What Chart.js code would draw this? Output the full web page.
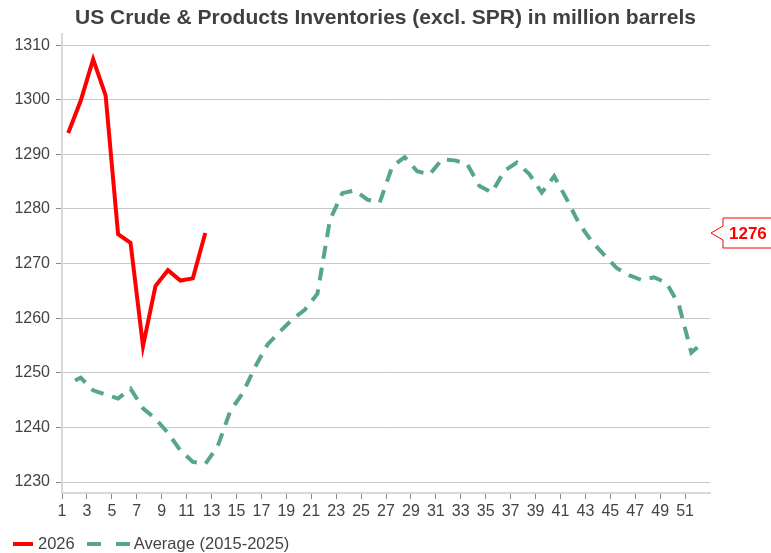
<!DOCTYPE html>
<html>
<head>
<meta charset="utf-8">
<script src="https://cdn.jsdelivr.net/npm/chart.js@4.4.1/dist/chart.umd.min.js"></script>
<style>
    body { margin: 0; background: #fff; }
    #wrap { position: relative; width: 771px; height: 553px; font-family: "Liberation Sans", Arial, sans-serif; }
    #legend { position: absolute; left: 13px; top: 534px; font-size: 16.5px; color: #444; display: flex; align-items: center; }
    .sw { display: inline-block; height: 4px; }
</style>
</head>
<body>
<div id="wrap">
    <canvas id="chart"></canvas>
    <div id="legend">
        <span class="sw" style="width:20px;background:#ff0000"></span>
        <span style="margin-left:5px">2026</span>
        <span class="sw" style="width:14px;background:#55a58f;margin-left:12px"></span>
        <span class="sw" style="width:14px;background:#55a58f;margin-left:15px"></span>
        <span style="margin-left:4px">Average (2015-2025)</span>
    </div>
</div>
<script>
const weeks = Array.from({ length: 52 }, (_, i) => i + 1);
const xTicks = [1, 3, 5, 7, 9, 11, 13, 15, 17, 19, 21, 23, 25, 27, 29, 31, 33, 35, 37, 39, 41, 43, 45, 47, 49, 51];
const yTicks = [1230, 1240, 1250, 1260, 1270, 1280, 1290, 1300, 1310];

const current2026 = [1293.9, 1299.8, 1307.4, 1300.8, 1275.4, 1273.8, 1254.9, 1265.9, 1268.8, 1266.9, 1267.3, 1275.6];

const average = [
    1248.0, 1249.1, 1246.8, 1246.0, 1245.3, 1247.1, 1243.5, 1241.6, 1239.0, 1235.8,
    1233.7, 1233.3, 1236.6, 1243.0, 1246.3, 1251.1, 1255.2, 1257.6, 1259.8, 1261.6,
    1264.5, 1278.0, 1282.9, 1283.4, 1281.7, 1281.2, 1287.8, 1289.5, 1286.9, 1286.3,
    1289.1, 1288.9, 1288.3, 1284.2, 1283.0, 1287.0, 1288.5, 1286.4, 1283.0, 1286.0,
    1281.8, 1277.3, 1274.1, 1271.6, 1269.2, 1267.9, 1267.0, 1267.5, 1266.5, 1262.5,
    1253.7, 1255.7
];

const red = '#ff0000';
const green = '#55a58f';
const textColor = '#444444';

// week labels sit on the tick marks, the points sit in the middle of each week
const toPoints = vals => vals.map((v, i) => ({ x: weeks[i] + 0.5, y: v }));

const calloutPlugin = {
    id: 'callout',
    afterDraw(chart) {
        const ctx = chart.ctx;
        const area = chart.chartArea;
        const last = current2026[current2026.length - 1];
        const y = chart.scales.y.getPixelForValue(last);
        const tip = area.right + 1;
        const left = area.right + 13;
        ctx.save();
        ctx.beginPath();
        ctx.moveTo(tip, y);
        ctx.lineTo(left, y - 7);
        ctx.lineTo(left, y - 15);
        ctx.lineTo(chart.width + 5, y - 15);
        ctx.lineTo(chart.width + 5, y + 15);
        ctx.lineTo(left, y + 15);
        ctx.lineTo(left, y + 7);
        ctx.closePath();
        ctx.fillStyle = '#fff';
        ctx.fill();
        ctx.strokeStyle = red;
        ctx.lineWidth = 1;
        ctx.stroke();
        ctx.fillStyle = red;
        ctx.font = 'bold 17px "Liberation Sans", Arial, sans-serif';
        ctx.textBaseline = 'middle';
        ctx.fillText(Math.round(last).toString(), left + 6, y + 1);
        ctx.restore();
    }
};

new Chart(document.getElementById('chart'), {
    type: 'line',
    data: {
        datasets: [
            {
                label: '2026',
                data: toPoints(current2026),
                borderColor: red,
                borderWidth: 4,
                pointRadius: 0,
                tension: 0
            },
            {
                label: 'Average (2015-2025)',
                data: toPoints(average),
                borderColor: green,
                borderWidth: 4,
                borderDash: [13, 9],
                borderDashOffset: 14.5,
                pointRadius: 0,
                tension: 0
            }
        ]
    },
    options: {
        responsive: true,
        maintainAspectRatio: false,
        animation: false,
        layout: { padding: 0 },
        font: { family: '"Liberation Sans", Arial, sans-serif' },
        scales: {
            x: {
                type: 'linear',
                min: 1,
                max: 53,
                afterBuildTicks: scale => { scale.ticks = xTicks.map(v => ({ value: v })); },
                afterFit: scale => { scale.height = 60; },
                ticks: { color: textColor, font: { size: 16 }, padding: 3, maxRotation: 0, autoSkip: false, callback: v => String(v) },
                grid: { drawOnChartArea: false, tickLength: 6, tickColor: '#888888' },
                border: { color: '#d9d9d9', width: 2 }
            },
            y: {
                min: 1228,
                max: 1312,
                afterBuildTicks: scale => { scale.ticks = yTicks.map(v => ({ value: v })); },
                afterFit: scale => { scale.width = 62; },
                ticks: { color: textColor, font: { size: 16 }, padding: 6, callback: v => String(v) },
                grid: { color: '#c8c8c8', tickLength: 6, tickColor: '#888888' },
                border: { color: '#d9d9d9', width: 2 }
            },
            // empty right-hand gutter, room for the 1276 callout
            gutter: {
                position: 'right',
                afterFit: scale => { scale.width = 61; },
                ticks: { display: false },
                grid: { display: false },
                border: { display: false }
            }
        },
        plugins: {
            legend: { display: false },
            tooltip: { enabled: false },
            title: {
                display: true,
                text: 'US Crude & Products Inventories (excl. SPR) in million barrels',
                color: '#404040',
                font: { size: 21, weight: 'bold' },
                padding: { top: 6, bottom: 3 }
            }
        }
    },
    plugins: [calloutPlugin]
});
</script>
</body>
</html>
